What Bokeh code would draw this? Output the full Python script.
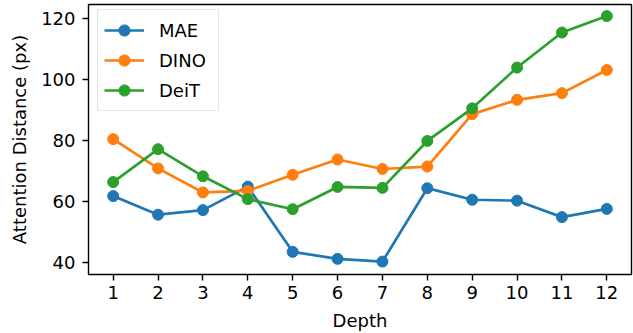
from bokeh.plotting import figure
from bokeh.models import Range1d, FixedTicker, Legend
from bokeh.embed import file_html
from bokeh.resources import INLINE

depth = [1, 2, 3, 4, 5, 6, 7, 8, 9, 10, 11, 12]
mae = [61.7, 55.6, 57.1, 64.8, 43.4, 41.1, 40.2, 64.3, 60.5, 60.2, 54.8, 57.5]
dino = [80.4, 70.8, 62.9, 63.4, 68.7, 73.7, 70.6, 71.4, 88.6, 93.3, 95.5, 103.1]
deit = [66.3, 77.1, 68.2, 60.7, 57.4, 64.7, 64.4, 79.8, 90.5, 103.9, 115.4, 120.8]
y_ticks = [40, 60, 80, 100, 120]
series_names = ["MAE", "DINO", "DeiT"]
colors = ["#1f77b4", "#ff7f0e", "#2ca02c"]

FONT = "DejaVu Sans"

p = figure(width=633, height=333, output_backend="svg", toolbar_location=None,
           x_range=Range1d(0.45, 12.55), y_range=Range1d(35.96, 124.6),
           min_border_left=88, min_border_right=2, min_border_top=4, min_border_bottom=58)

p.xgrid.visible = False
p.ygrid.visible = False
p.outline_line_color = "black"
p.outline_line_width = 1.4
p.background_fill_color = "white"
p.border_fill_color = "white"

for ax in (p.xaxis[0], p.yaxis[0]):
    ax.axis_line_color = None
    ax.major_tick_line_color = "black"
    ax.major_tick_line_width = 1.4
    ax.major_tick_out = 6
    ax.major_tick_in = 0
    ax.minor_tick_line_color = None
    ax.major_label_text_font = FONT
    ax.major_label_text_font_size = "18px"
    ax.major_label_text_color = "black"
    ax.axis_label_text_font = FONT
    ax.axis_label_text_font_size = "18px"
    ax.axis_label_text_font_style = "normal"
    ax.axis_label_text_color = "black"

p.xaxis.ticker = FixedTicker(ticks=depth)
p.yaxis.ticker = FixedTicker(ticks=y_ticks)
p.xaxis.axis_label = "Depth"
p.yaxis.axis_label = "Attention Distance (px)"
p.yaxis.major_label_standoff = 7
p.yaxis.axis_label_standoff = 8
p.xaxis.axis_label_standoff = 8

items = []
for name, ys, c in zip(series_names, [mae, dino, deit], colors):
    l = p.line(depth, ys, line_color=c, line_width=2.7, line_join="round")
    s = p.scatter(depth, ys, size=11, fill_color=c, line_color=c)
    items.append((name, [l, s]))

legend = Legend(items=items, location=(9, 163))
legend.label_text_font = FONT
legend.label_text_font_size = "18px"
legend.label_text_color = "black"
legend.glyph_width = 40
legend.glyph_height = 28
legend.label_height = 28
legend.label_width = 53
legend.label_standoff = 15
legend.spacing = 2
legend.padding = 6
legend.margin = 0
legend.border_line_color = "#cccccc"
legend.border_line_width = 1
legend.background_fill_color = "white"
legend.background_fill_alpha = 0.8
p.add_layout(legend, "center")

open("out.html", "w").write(file_html(p, INLINE))
